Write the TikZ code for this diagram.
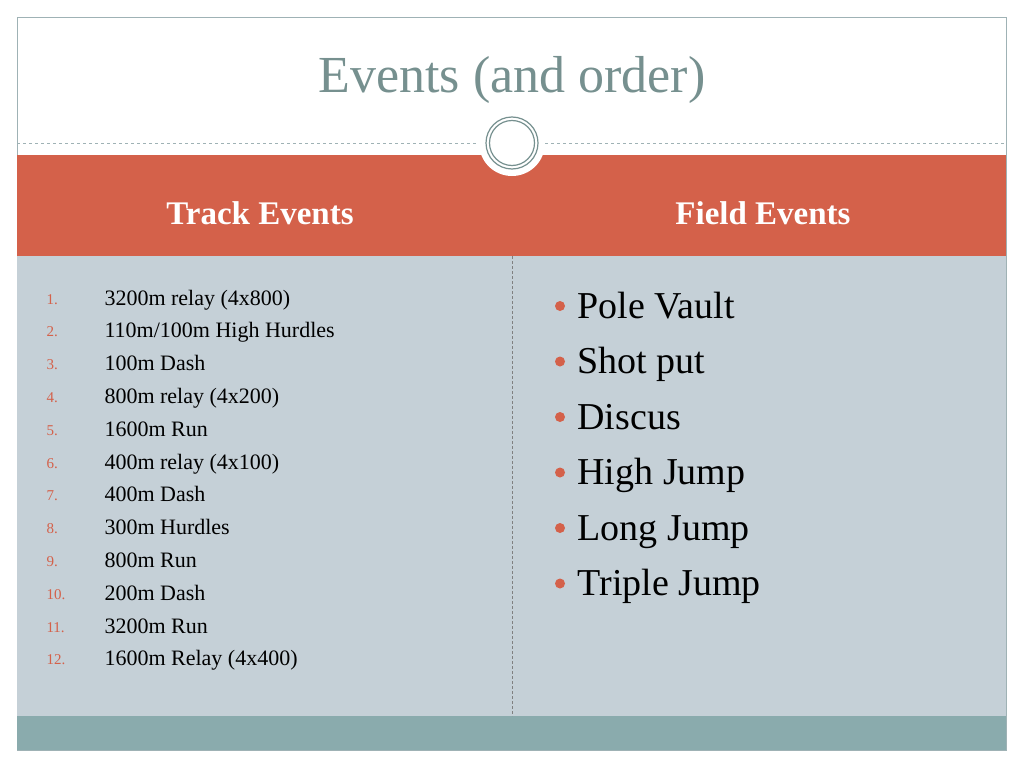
\documentclass[tikz,border=0pt]{standalone}
\usepackage{fontspec}
\setmainfont{Liberation Serif}
\definecolor{orng}{HTML}{D4614A}
\definecolor{body}{HTML}{C5D0D7}
\definecolor{teal}{HTML}{8AABAD}
\definecolor{ttl}{HTML}{76908F}
\definecolor{frm}{HTML}{9FB2B5}
\tikzset{
  num/.style={anchor=base west,text=orng,font=\fontsize{15}{15}\selectfont},
  itm/.style={anchor=base west,font=\fontsize{22}{22}\selectfont},
  fld/.style={anchor=base west,font=\fontsize{38}{38}\selectfont},
  hdr/.style={text=white,font=\fontsize{33}{33}\selectfont\bfseries},
}
\begin{document}
\begin{tikzpicture}[x=1pt,y=-1pt]
\useasboundingbox (0,0) rectangle (1024,768);
\fill[white] (0,0) rectangle (1024,768);
\draw[frm,line width=0.8pt] (17,17) rectangle (1006,750);
\fill[orng] (17,155) rectangle (1006,256);
\fill[body] (17,256) rectangle (1006,716);
\fill[teal] (17,716) rectangle (1006,750);
\draw[frm,dashed,line width=0.8pt] (17,143) -- (1006,143);
\draw[gray,densely dashed,line width=0.7pt] (512,256) -- (512,716);
\fill[white] (512,143) circle (33);
\draw[ttl,line width=1.2pt] (512,143) circle (26);
\draw[ttl,line width=1.2pt] (512,143) circle (22.5);
\node[text=ttl,font=\fontsize{52}{52}\selectfont] (title) at (512,80) {Events (and order)};
\node[hdr] (th) at (260,213) {Track Events};
\node[hdr] (fh) at (763,213) {Field Events};
\foreach \n/\t [count=\i] in {1/{3200m relay (4x800)},2/{110m/100m High Hurdles},3/{100m Dash},4/{800m relay (4x200)},5/{1600m Run},6/{400m relay (4x100)},7/{400m Dash},8/{300m Hurdles},9/{800m Run},10/{200m Dash},11/{3200m Run},12/{1600m Relay (4x400)}}{
  \node[num] (n\i) at (43,{304+32.8*(\i-1)}) {\n.};
  \node[itm] (t\i) at (101,{305+32.8*(\i-1)}) {\t};
}
\foreach \t [count=\i] in {Pole Vault,Shot put,Discus,High Jump,Long Jump,Triple Jump}{
  \fill[orng] (560,{306+55.5*(\i-1)}) circle (5);
  \node[fld] (f\i) at (574,{318+55.5*(\i-1)}) {\t};
}
\end{tikzpicture}
\end{document}
